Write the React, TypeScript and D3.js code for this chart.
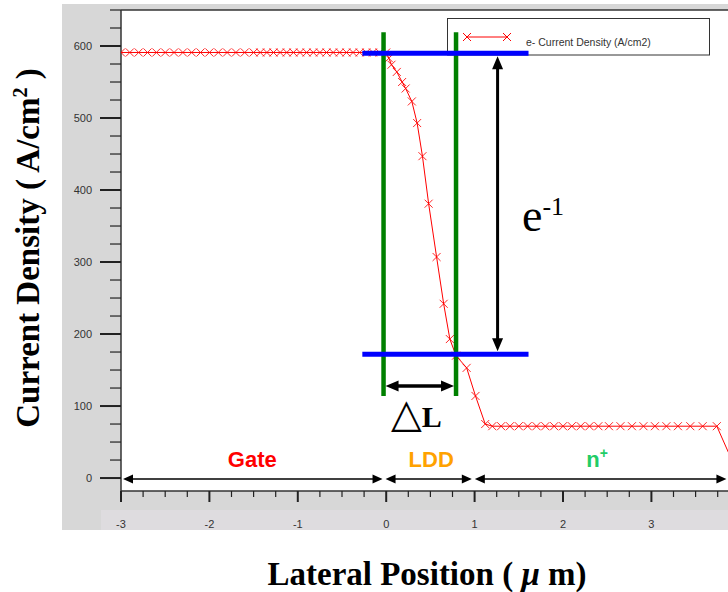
import React from 'react';
import * as d3 from 'd3';

const W = 728, H = 592;

// lateral position (um) / electron current density (A/cm2)
const gateX = [-3.0, -2.9, -2.8, -2.7, -2.6, -2.5, -2.4, -2.3, -2.2, -2.1, -2.0, -1.9,
  -1.8, -1.7, -1.6, -1.5, -1.425, -1.35, -1.275, -1.2, -1.125, -1.05, -0.975, -0.9,
  -0.825, -0.75, -0.675, -0.6, -0.525, -0.45, -0.375, -0.3, -0.225, -0.15, -0.075, 0];
const gateJ = [591, 591, 591, 591, 591, 591, 591, 591, 591, 591, 591, 591,
  591, 591, 591, 591, 591, 591, 591, 591, 591, 591, 591, 591,
  591, 591, 591, 591, 591, 591, 591, 591, 591, 591, 591, 591];
const lddX = [0.03, 0.06, 0.12, 0.18, 0.22, 0.29, 0.35, 0.41, 0.48, 0.57, 0.65, 0.72, 0.79, 0.91, 1.01];
const lddJ = [583, 574, 564, 550, 541, 523, 493, 447, 381, 307, 242, 193, 170, 153, 114];
const nPlusX = [1.12, 1.2, 1.3, 1.4, 1.5, 1.6, 1.7, 1.8, 1.9, 2.0, 2.1, 2.2, 2.3, 2.4,
  2.52, 2.65, 2.78, 2.91, 3.04, 3.17, 3.3, 3.44, 3.58, 3.74, 3.96];
const nPlusJ = [75, 72, 72, 72, 72, 72, 72, 72, 72, 72, 72, 72, 72, 72,
  72, 72, 72, 72, 72, 72, 72, 72, 72, 72, 11];

const yTicks = [0, 100, 200, 300, 400, 500, 600];
const xTicks = [-3, -2, -1, 0, 1, 2, 3];

const regionNames = ['Gate', 'LDD', 'n'];
const regionFrom = [-3, -0.03, 0.98];
const regionTo = [-0.03, 0.98, 3.86];
const regionColors = ['#ff0000', '#ffa200', '#22cc66'];

// annotation levels: e^-1 drop between 590 and 172, LDD edges
const levelTop = 590, levelBottom = 172;
const edgeLeft = -0.03, edgeRight = 0.79;

const serif = 'Liberation Serif, Times New Roman, serif';
const sans = 'Liberation Sans, Arial, Helvetica, sans-serif';

function App() {
  const x = d3.scaleLinear().domain([-3, 4]).range([121, 121 + 7 * 88.4]);
  const y = d3.scaleLinear().domain([-18, 650]).range([491, 10]);

  const pts = [...gateX.map((v, i) => [v, gateJ[i]]),
    ...lddX.map((v, i) => [v, lddJ[i]]),
    ...nPlusX.map((v, i) => [v, nPlusJ[i]])] as [number, number][];
  const line = d3.line<[number, number]>().x(d => x(d[0])).y(d => y(d[1]));

  const minorY = d3.range(0, 651, 25);
  const minorX = d3.range(-3, 4.01, 0.25);
  const cross = (cx: number, cy: number, s = 4) =>
    `M${cx - s},${cy - s}L${cx + s},${cy + s}M${cx - s},${cy + s}L${cx + s},${cy - s}`;

  const arrowH = (x1: number, x2: number, yy: number, len: number, hw: number) => (
    `M${x1},${yy}L${x1 + len},${yy - hw}L${x1 + len},${yy + hw}Z` +
    `M${x2},${yy}L${x2 - len},${yy - hw}L${x2 - len},${yy + hw}Z`);

  const gx1 = x(edgeLeft), gx2 = x(edgeRight);
  const bx1 = x(-0.27), bx2 = x(1.61);
  const ax = x(1.26);
  const yTop = y(levelTop), yBot = y(levelBottom);

  return (
    <svg width={W} height={H} style={{ position: 'fixed', left: 0, top: 0, background: '#fff' }}>
      <defs>
        <clipPath id="plot"><rect x={121} y={10} width={W - 121} height={481} /></clipPath>
      </defs>
      <rect x={62} y={4} width={W - 62} height={526} fill="#d7d7d7" />
      <rect x={101} y={510} width={W - 101} height={20} fill="#dedcdf" />
      <rect x={121} y={10} width={W - 121} height={481} fill="#fff" />
      <line x1={121} x2={W} y1={10} y2={10} stroke="#333" strokeWidth={1.5} />
      <line x1={121} x2={121} y1={10} y2={491} stroke="#333" strokeWidth={1.5} />
      <line x1={121} x2={W} y1={491} y2={491} stroke="#333" strokeWidth={1.5} />

      {minorY.map(v => (
        <line key={'my' + v} x1={v % 100 === 0 ? 100 : 110} x2={121} y1={y(v)} y2={y(v)}
          stroke="#222" strokeWidth={v % 100 === 0 ? 2 : 1.2} />
      ))}
      {yTicks.map(v => (
        <text key={'ty' + v} x={92} y={y(v) + 4} textAnchor="end" fontFamily={sans}
          fontSize={11} fill="#333">{v}</text>
      ))}
      {minorX.map((v, i) => (
        <line key={'mx' + i} x1={x(v)} x2={x(v)} y1={491} y2={i % 4 === 0 ? 502 : 497}
          stroke="#222" strokeWidth={i % 4 === 0 ? 2 : 1.2} />
      ))}
      {xTicks.map(v => (
        <text key={'tx' + v} x={x(v)} y={528} textAnchor="middle" fontFamily={sans}
          fontSize={11} fill="#333">{v}</text>
      ))}

      <g clipPath="url(#plot)">
        <path d={line(pts) ?? ''} fill="none" stroke="#ff0000" strokeWidth={1} />
        <path d={pts.map(p => cross(x(p[0]), y(p[1]))).join('')} fill="none"
          stroke="#ff0000" strokeWidth={1} opacity={0.85} />
      </g>

      {regionNames.map((n, i) => {
        const x1 = x(regionFrom[i]) + 2, x2 = x(regionTo[i]) - 1;
        const cx = (x(regionFrom[i]) + x(regionTo[i])) / 2;
        return (
          <g key={n}>
            <line x1={x1 + 6} x2={x2 - 6} y1={479} y2={479} stroke="#000" strokeWidth={1.5} />
            <path d={arrowH(x1, x2, 479, 10, 4.5)} fill="#000" />
            <text x={cx + (i === 2 ? -3 : i === 1 ? 3 : 0)} y={467} textAnchor="middle"
              fontFamily={sans} fontWeight="bold" fontSize={22} fill={regionColors[i]}>
              {n}{i === 2 && <tspan fontSize={14} dy={-9}>+</tspan>}
            </text>
          </g>
        );
      })}

      <rect x={447.5} y={18.5} width={262} height={36.5} fill="#fff" stroke="#333" strokeWidth={1} />
      <line x1={467} x2={507} y1={37} y2={37} stroke="#ff0000" strokeWidth={1} />
      <path d={cross(467, 37) + cross(507, 37)} stroke="#ff0000" strokeWidth={1} fill="none" />
      <text x={526} y={46} fontFamily={sans} fontSize={10.5} fill="#333">e- Current Density (A/cm2)</text>

      <line x1={gx1} x2={gx1} y1={y(619)} y2={y(114)} stroke="#008000" strokeWidth={4.5} />
      <line x1={gx2} x2={gx2} y1={y(619)} y2={y(114)} stroke="#008000" strokeWidth={4.5} />
      <line x1={bx1} x2={bx2} y1={yTop} y2={yTop} stroke="#0000ff" strokeWidth={5} />
      <line x1={bx1} x2={bx2} y1={yBot} y2={yBot} stroke="#0000ff" strokeWidth={5} />

      <line x1={ax} x2={ax} y1={yTop + 12} y2={yBot - 12} stroke="#000" strokeWidth={3} />
      <path d={`M${ax},${yTop + 3}L${ax - 5.5},${yTop + 16}L${ax + 5.5},${yTop + 16}Z` +
        `M${ax},${yBot - 3}L${ax - 5.5},${yBot - 16}L${ax + 5.5},${yBot - 16}Z`} fill="#000" />
      <line x1={gx1 + 10} x2={gx2 - 10} y1={386} y2={386} stroke="#000" strokeWidth={3.5} />
      <path d={arrowH(gx1 + 2, gx2 - 2, 386, 13, 5.5)} fill="#000" />

      <text x={522} y={231} fontFamily={serif} fontSize={46} fill="#000">
        e<tspan fontSize={26} dy={-16}>-1</tspan>
      </text>
      <text x={391} y={427} fontFamily={serif} fill="#000">
        <tspan fontFamily="DejaVu Sans" fontSize={40}>△</tspan>
        <tspan fontWeight="bold" fontSize={30}>L</tspan>
      </text>

      <text transform="translate(39,248) rotate(-90)" textAnchor="middle" fontFamily={serif}
        fontWeight="bold" fontSize={33} fill="#000">
        Current Density ( A/cm<tspan fontSize={20} dy={-12}>2</tspan><tspan dy={12}> )</tspan>
      </text>
      <text x={427} y={585} textAnchor="middle" fontFamily={serif} fontWeight="bold"
        fontSize={33} fill="#000">
        Lateral Position ( <tspan fontStyle="italic">μ</tspan> m)
      </text>
    </svg>
  );
}

export default App;
